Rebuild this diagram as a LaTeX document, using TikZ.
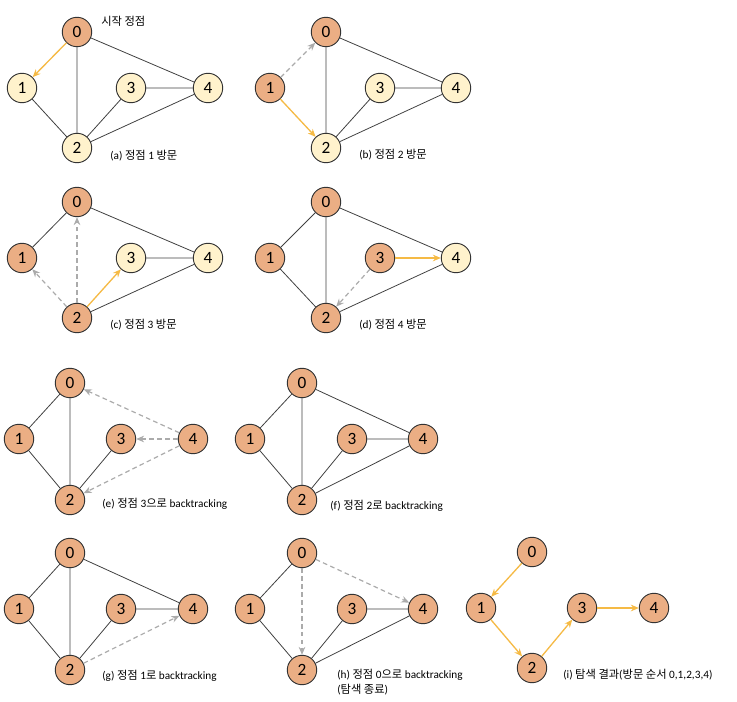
\documentclass[tikz,border=0pt]{standalone}
\usepackage{fontspec}
\setmainfont{Carlito}
\newfontfamily\kr{Noto Sans CJK KR}
\usetikzlibrary{arrows.meta}

\definecolor{visitfill}{HTML}{EBAE84}
\definecolor{newfill}{HTML}{FFF2CC}
\definecolor{gold}{HTML}{F5BA45}
\definecolor{trace}{HTML}{ABABAB}

\begin{document}
\begin{tikzpicture}[
    x=0.0265cm, y=-0.0265cm,
    vtx/.style={circle, draw=black!80, line width=0.7pt, minimum size=0.78cm, inner sep=0pt, font=\fontsize{13}{13}\selectfont},
    link/.style={draw=black!75, line width=0.6pt},
    go/.style={-{Stealth[length=6pt, width=5pt]}, draw=gold, line width=1pt},
    back/.style={-{Stealth[length=6pt, width=5pt]}, draw=trace, line width=0.9pt, dash pattern=on 3.5pt off 2.5pt},
    captxt/.style={font=\fontsize{8.5}{11}\selectfont, anchor=west, inner sep=0pt, align=left}
]
\useasboundingbox (0,0) rectangle (737,702);

% (a) visit vertex 1
\begin{scope}[shift={(77,32)}]
  \foreach \n/\x/\y/\c in {0/0/0/visitfill, 1/-55/56/newfill, 2/0/116/newfill, 3/54/56/newfill, 4/131/56/newfill}
    \node[vtx, fill=\c] (a\n) at (\x,\y) {\n};
\end{scope}
\draw[go] (a0) -- (a1);
\draw[link] (a0) -- (a2) (a0) -- (a4) (a1) -- (a2) (a2) -- (a3) (a3) -- (a4) (a2) -- (a4);
\node[captxt] (start) at (101,21) {{\kr 시작 정점}};
\node[captxt] (capa) at (110,156) {(a) {\kr 정점} 1 {\kr 방문}};

% (b) visit vertex 2
\begin{scope}[shift={(326,32)}]
  \foreach \n/\x/\y/\c in {0/0/0/visitfill, 1/-56/56/visitfill, 2/0/116/newfill, 3/54/56/newfill, 4/130/56/newfill}
    \node[vtx, fill=\c] (b\n) at (\x,\y) {\n};
\end{scope}
\draw[back] (b1) -- (b0);
\draw[go] (b1) -- (b2);
\draw[link] (b0) -- (b2) (b0) -- (b4) (b2) -- (b3) (b3) -- (b4) (b2) -- (b4);
\node[captxt] (capb) at (359,155) {(b) {\kr 정점} 2 {\kr 방문}};

% (c) visit vertex 3
\begin{scope}[shift={(77,202)}]
  \foreach \n/\x/\y/\c in {0/0/0/visitfill, 1/-55/56/visitfill, 2/0/116/visitfill, 3/54/56/newfill, 4/131/56/newfill}
    \node[vtx, fill=\c] (c\n) at (\x,\y) {\n};
\end{scope}
\draw[back] (c2) -- (c0);
\draw[back] (c2) -- (c1);
\draw[go] (c2) -- (c3);
\draw[link] (c0) -- (c1) (c0) -- (c4) (c3) -- (c4) (c2) -- (c4);
\node[captxt] (capc) at (110,325) {(c) {\kr 정점} 3 {\kr 방문}};

% (d) visit vertex 4
\begin{scope}[shift={(326,202)}]
  \foreach \n/\x/\y/\c in {0/0/0/visitfill, 1/-56/56/visitfill, 2/0/116/visitfill, 3/54/56/visitfill, 4/130/56/newfill}
    \node[vtx, fill=\c] (d\n) at (\x,\y) {\n};
\end{scope}
\draw[back] (d3) -- (d2);
\draw[go] (d3) -- (d4);
\draw[link] (d0) -- (d1) (d0) -- (d2) (d1) -- (d2) (d0) -- (d4) (d2) -- (d4);
\node[captxt] (capd) at (359,325) {(d) {\kr 정점} 4 {\kr 방문}};

% (e) back to vertex 3
\begin{scope}[shift={(70,383)}]
  \foreach \n/\x/\y in {0/0/0, 1/-51/56, 2/0/117, 3/51/56, 4/123/56}
    \node[vtx, fill=visitfill] (e\n) at (\x,\y) {\n};
\end{scope}
\draw[back] (e4) -- (e0);
\draw[back] (e4) -- (e3);
\draw[back] (e4) -- (e2);
\draw[link] (e0) -- (e1) (e0) -- (e2) (e1) -- (e2) (e2) -- (e3);
\node[captxt] (cape) at (102,504) {(e) {\kr 정점} 3{\kr 으로} backtracking};

% (f) back to vertex 2
\begin{scope}[shift={(302,383)}]
  \foreach \n/\x/\y in {0/0/0, 1/-52/56, 2/0/117, 3/50/56, 4/121/56}
    \node[vtx, fill=visitfill] (f\n) at (\x,\y) {\n};
\end{scope}
\draw[link] (f0) -- (f1) (f0) -- (f2) (f1) -- (f2) (f2) -- (f3) (f0) -- (f4) (f3) -- (f4) (f2) -- (f4);
\node[captxt] (capf) at (330,506) {(f) {\kr 정점} 2{\kr 로} backtracking};

% (g) back to vertex 1
\begin{scope}[shift={(70,553)}]
  \foreach \n/\x/\y in {0/0/0, 1/-51/56, 2/0/117, 3/51/56, 4/123/56}
    \node[vtx, fill=visitfill] (g\n) at (\x,\y) {\n};
\end{scope}
\draw[back] (g2) -- (g4);
\draw[link] (g0) -- (g1) (g0) -- (g2) (g1) -- (g2) (g2) -- (g3) (g0) -- (g4) (g3) -- (g4);
\node[captxt] (capg) at (102,676) {(g) {\kr 정점} 1{\kr 로} backtracking};

% (h) back to vertex 0, search ends
\begin{scope}[shift={(302,553)}]
  \foreach \n/\x/\y in {0/0/0, 1/-52/56, 2/0/117, 3/50/56, 4/121/56}
    \node[vtx, fill=visitfill] (h\n) at (\x,\y) {\n};
\end{scope}
\draw[back] (h0) -- (h2);
\draw[back] (h0) -- (h4);
\draw[link] (h0) -- (h1) (h1) -- (h2) (h2) -- (h3) (h3) -- (h4) (h2) -- (h4);
\node[captxt, anchor=north west] (caph) at (337,669) {(h) {\kr 정점} 0{\kr 으로} backtracking\\({\kr 탐색 종료})};

% (i) result
\begin{scope}[shift={(532,552)}]
  \foreach \n/\x/\y in {0/0/0, 1/-51/56, 2/0/116, 3/50/56, 4/122/56}
    \node[vtx, fill=visitfill] (i\n) at (\x,\y) {\n};
\end{scope}
\draw[go] (i0) -- (i1);
\draw[go] (i1) -- (i2);
\draw[go] (i2) -- (i3);
\draw[go] (i3) -- (i4);
\node[captxt] (capi) at (563,675) {(i) {\kr 탐색 결과}({\kr 방문 순서} 0,1,2,3,4)};

\end{tikzpicture}
\end{document}
